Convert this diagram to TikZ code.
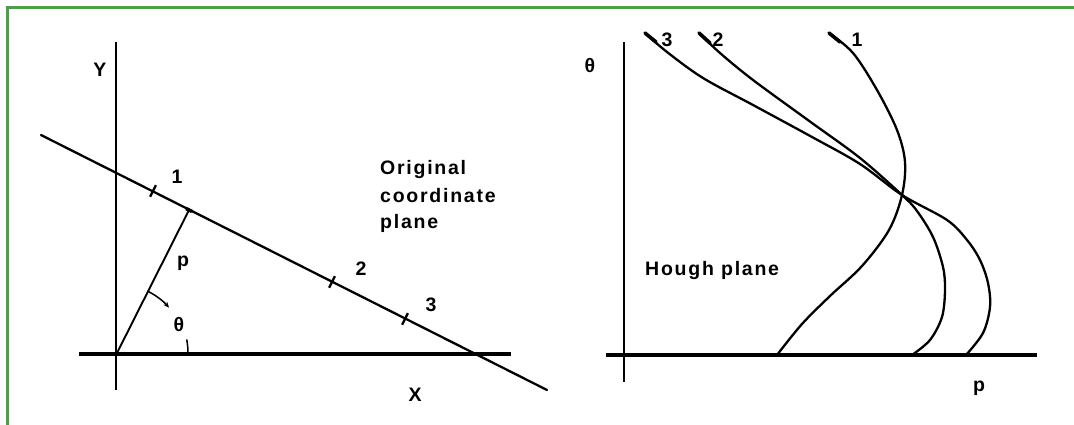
\documentclass[tikz,border=0pt]{standalone}
\usepackage{fontspec}
\setmainfont{Liberation Sans}[LetterSpace=9]
\usetikzlibrary{arrows.meta}
\definecolor{framegreen}{RGB}{72,162,68}
\begin{document}
\begin{tikzpicture}[x=1pt,y=-1pt,
  lbl/.style={inner sep=0pt, font=\fontsize{19.5}{23}\selectfont\bfseries},
  txt/.style={inner sep=0pt, anchor=base west, font=\fontsize{19.5}{23}\selectfont\bfseries},
  thinaxis/.style={line width=1.2pt},
  heavyaxis/.style={line width=4.2pt},
  mainline/.style={line width=2.3pt, line cap=round},
  pline/.style={line width=1.9pt, line cap=round},
  tickmark/.style={line width=2.4pt},
  curve/.style={line width=2.3pt, line join=round, line cap=round},
  curvestart/.style={line width=3.6pt, line cap=round},
  frame/.style={draw=framegreen, line width=2.5pt}]
\clip (0,0) rectangle (1074,425);
\fill[white] (0,0) rectangle (1074,425);
\draw[frame] (7.5,7.5) rectangle (1100,460);

% ---------- left panel ----------
\coordinate (O) at (117,353);
\coordinate (yTop) at (116,42);
\coordinate (yBot) at (116,390);
\coordinate (xL) at (79,354);
\coordinate (xR) at (511,354);
\coordinate (L1) at (41,135);
\coordinate (L2) at (547,390);
\coordinate (F) at (189,210);
\coordinate (P1) at (153,191);
\coordinate (P2) at (332,282);
\coordinate (P3) at (405,319);

\draw[thinaxis] (yTop) -- (yBot);
\draw[heavyaxis] (xL) -- (xR);
\draw[mainline] (L1) -- (L2);
\draw[pline] (O) -- (F);
\foreach \p in {P1,P2,P3}
  \draw[tickmark] (\p) ++(2.9,-5.8) -- ++(-5.8,11.6);
\draw[line width=3.4pt] (F) ++(-3,-1.5) -- ++(6,3);

\draw[line width=1.5pt, -{Stealth[length=6pt,width=5pt]}]
  (O) ++(-63:69) arc[start angle=-63, end angle=-41, radius=69];
\draw[line width=1.5pt] (O) ++(-11:71) arc[start angle=-11, end angle=0, radius=71];

\node[lbl] (ylab) at (100,70) {Y};
\node[lbl] (xlab) at (415,395) {X};
\node[lbl] (n1) at (177,177) {1};
\node[lbl] (n2) at (361,269) {2};
\node[lbl] (n3) at (431,305) {3};
\node[lbl] (plab) at (183,263) {p};
\node[lbl] (thlab) at (179,325) {θ};
\node[txt] (orig1) at (380,175) {Original};
\node[txt] (orig2) at (380,202) {coordinate};
\node[txt] (orig3) at (380,228) {plane};

% ---------- right panel ----------
\coordinate (tTop) at (624,42);
\coordinate (tBot) at (624,382);
\coordinate (rL) at (606,355);
\coordinate (rR) at (1037,355);
\draw[thinaxis] (tTop) -- (tBot);
\draw[line width=3.2pt] (rL) -- (rR);

\draw[curve] plot[smooth, tension=0.55] coordinates {
  (829,33) (853,53) (877,90) (897,130) (905,162) (902,195) (889,230)
  (862,266) (830,296) (802,324) (777,355)};
\draw[curve] plot[smooth, tension=0.55] coordinates {
  (699,33) (720,53) (753,80) (812,123) (860,158) (902,195) (917,211)
  (933,237) (943,267) (945,290) (942,317) (930,340) (912,355)};
\draw[curve] plot[smooth, tension=0.55] coordinates {
  (645,33) (667,52) (703,78) (753,105) (812,137) (860,164) (902,195)
  (947,220) (967,240) (980,260) (988,283) (990,307) (983,333) (966,355)};
\draw[curvestart] (829,33) -- (840,42);
\draw[curvestart] (699,33) -- (710,43);
\draw[curvestart] (645,33) -- (656,42);

\node[lbl] (c3) at (667,40) {3};
\node[lbl] (c2) at (718,40) {2};
\node[lbl] (c1) at (857,40) {1};
\node[lbl] (thax) at (590,66) {θ};
\node[lbl] (rhoax) at (979,388) {p};
\node[txt] (hough) at (645,275) {Hough plane};
\end{tikzpicture}
\end{document}
